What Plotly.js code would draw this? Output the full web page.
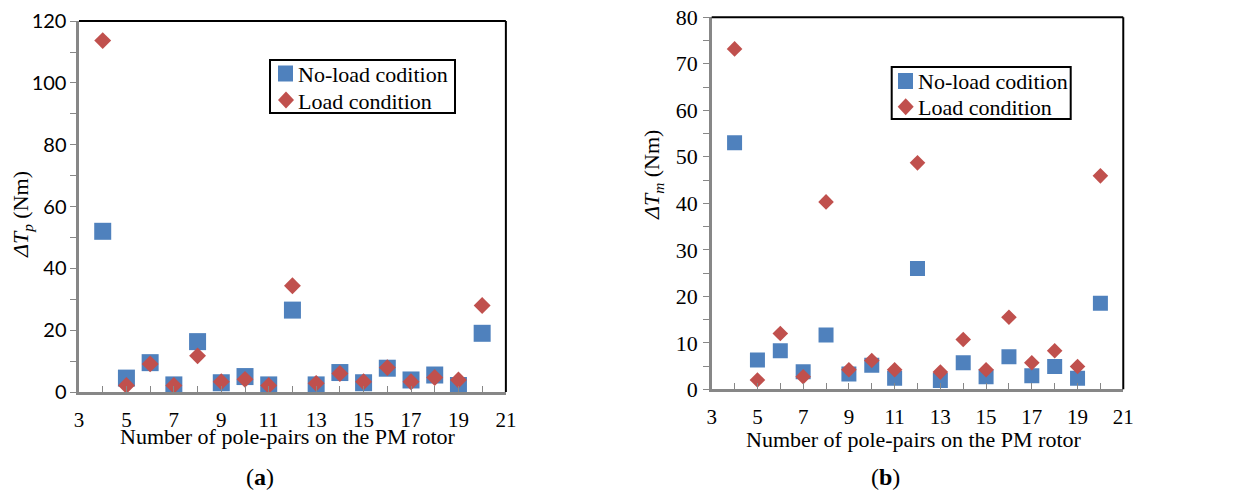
<!DOCTYPE html>
<html><head><meta charset="utf-8">
<script src="https://cdn.plot.ly/plotly-3.0.1.min.js"></script>
<style>body{margin:0;background:#fff}#c{width:1246px;height:491px}</style>
</head><body><div id="c"></div>
<script>
const polePairs = [4,5,6,7,8,9,10,11,12,13,14,15,16,17,18,19,20];
const tpNoLoad = [52,4.5,9.5,2.3,16.3,3.0,5.0,2.3,26.5,2.3,6.3,3.0,7.7,3.9,5.5,2.1,19];
const tpLoad   = [113.7,2.1,9.1,2.1,11.7,3.3,4.1,2.1,34.4,2.8,6.0,3.3,7.9,3.3,4.7,3.9,28];
const tmNoLoad = [53,6.3,8.3,3.8,11.7,3.3,5.2,2.4,26,1.9,5.7,2.7,7,2.9,4.9,2.4,18.5];
const tmLoad   = [73.2,2.0,12.0,2.7,40.3,4.2,6.2,4.2,48.7,3.7,10.7,4.2,15.5,5.7,8.3,4.9,45.9];
const seriesNames = ['No-load codition','Load condition'];

const W = 1246, H = 491;
const blue = '#4F81BD', red = '#C0504D';
const serif = 'Liberation Serif, Times New Roman, serif';
const sans = 'Lato, Carlito, sans-serif';

const traces = [
  {x: polePairs, y: tpNoLoad, name: seriesNames[0], type:'scatter', mode:'markers', xaxis:'x', yaxis:'y',
   marker:{symbol:'square', size:17, color:blue}},
  {x: polePairs, y: tpLoad, name: seriesNames[1], type:'scatter', mode:'markers', xaxis:'x', yaxis:'y',
   marker:{symbol:'diamond', size:13, color:red}},
  {x: polePairs, y: tmNoLoad, name: seriesNames[0], type:'scatter', mode:'markers', xaxis:'x2', yaxis:'y2',
   marker:{symbol:'square', size:15, color:blue}},
  {x: polePairs, y: tmLoad, name: seriesNames[1], type:'scatter', mode:'markers', xaxis:'x2', yaxis:'y2',
   marker:{symbol:'diamond', size:12, color:red}}
];

const gray = '#878787';
function xax(domain, anchor){
  return {domain: domain, anchor: anchor, range:[3,21], tick0:3, dtick:2, ticks:'inside', ticklen:6, tickcolor:gray,
    minor:{dtick:1, ticks:'inside', ticklen:6, tickcolor:gray},
    showline:true, linecolor:gray, linewidth:2.5, showgrid:false, zeroline:false,
    ticklabelstandoff:7, tickfont:{family:serif, size:21, color:'#000'}};
}
function yax(domain, anchor, max, dt, font, standoff){
  return {domain: domain, anchor: anchor, range:[0,max], dtick:dt, ticks:'outside', ticklen:6, tickcolor:gray,
    minor:{dtick:dt/2, ticks:'outside', ticklen:6, tickcolor:gray},
    showline:true, linecolor:gray, linewidth:2.5, showgrid:false, zeroline:false,
    ticklabelstandoff:standoff, tickfont:font};
}

// paper-coordinate helpers (pixels from top-left)
const px = v => v / W, py = v => 1 - v / H;

function legendShapes(box, sq, dia){
  return [
    {type:'rect', xref:'paper', yref:'paper', x0:px(box[0]), x1:px(box[1]), y0:py(box[2]), y1:py(box[3]),
     line:{color:'#000', width:2}, fillcolor:'#fff', layer:'above'},
    {type:'rect', xref:'paper', yref:'paper', x0:px(sq[0]-7.5), x1:px(sq[0]+7.5), y0:py(sq[1]-8), y1:py(sq[1]+8),
     line:{width:0}, fillcolor:blue, layer:'above'},
    {type:'path', xref:'paper', yref:'paper',
     path:`M ${px(dia[0]-8)} ${py(dia[1])} L ${px(dia[0])} ${py(dia[1]-8.5)} L ${px(dia[0]+8)} ${py(dia[1])} L ${px(dia[0])} ${py(dia[1]+8.5)} Z`,
     line:{width:0}, fillcolor:red, layer:'above'}
  ];
}
function legendTexts(tx, y1, y2){
  return [
    {text:seriesNames[0], xref:'paper', yref:'paper', x:px(tx), y:py(y1), xanchor:'left', yanchor:'middle', showarrow:false,
     font:{family:serif, size:22, color:'#000'}},
    {text:seriesNames[1], xref:'paper', yref:'paper', x:px(tx), y:py(y2), xanchor:'left', yanchor:'middle', showarrow:false,
     font:{family:serif, size:22, color:'#000'}}
  ];
}

const layout = {
  width:W, height:H, margin:{l:0,r:0,t:0,b:0}, paper_bgcolor:'#fff', plot_bgcolor:'#fff',
  showlegend:false,
  xaxis: xax([0.0634,0.406],'y'),
  yaxis: yax([0.2016,0.957],'x',120,20,{family:sans, size:20, color:'#000'},0),
  xaxis2: xax([0.5712,0.9015],'y2'),
  yaxis2: yax([0.2071,0.9648],'x2',80,10,{family:serif, size:22, color:'#000'},1),
  shapes:[
    {type:'line', xref:'x domain', yref:'y domain', x0:0, x1:1, y0:1, y1:1, line:{color:'#000', width:2}},
    {type:'line', xref:'x domain', yref:'y domain', x0:1, x1:1, y0:0, y1:1, line:{color:'#000', width:2}},
    {type:'line', xref:'x2 domain', yref:'y2 domain', x0:0, x1:1, y0:1, y1:1, line:{color:'#000', width:2}},
    {type:'line', xref:'x2 domain', yref:'y2 domain', x0:1, x1:1, y0:0, y1:1, line:{color:'#000', width:2}},
    ...legendShapes([270,455,60,113],[285.5,73.5],[286,100]),
    ...legendShapes([891.7,1070.7,67,119],[905.5,81],[905.7,106.7])
  ],
  annotations:[
    ...legendTexts(296,75,101.5),
    ...legendTexts(916,81.5,108),
    {text:'<i>ΔT</i><sub><i>p</i></sub> (Nm)', xref:'paper', yref:'paper', x:px(22), y:py(215), xanchor:'center', yanchor:'middle',
     textangle:-90, showarrow:false, font:{family:serif, size:22, color:'#000'}},
    {text:'<i>ΔT</i><sub><i>m</i></sub> (Nm)', xref:'paper', yref:'paper', x:px(653), y:py(175), xanchor:'center', yanchor:'middle',
     textangle:-90, showarrow:false, font:{family:serif, size:22, color:'#000'}},
    {text:'Number of pole-pairs on the PM rotor', xref:'paper', yref:'paper', x:px(287), y:py(436), xanchor:'center', yanchor:'middle',
     showarrow:false, font:{family:serif, size:22, color:'#000'}},
    {text:'Number of pole-pairs on the PM rotor', xref:'paper', yref:'paper', x:px(913), y:py(439), xanchor:'center', yanchor:'middle',
     showarrow:false, font:{family:serif, size:22, color:'#000'}},
    {text:'(<b>a</b>)', xref:'paper', yref:'paper', x:px(260), y:py(477), xanchor:'center', yanchor:'middle', showarrow:false,
     font:{family:serif, size:24, color:'#000'}},
    {text:'(<b>b</b>)', xref:'paper', yref:'paper', x:px(885), y:py(477), xanchor:'center', yanchor:'middle', showarrow:false,
     font:{family:serif, size:24, color:'#000'}}
  ]
};
Plotly.newPlot('c', traces, layout, {displayModeBar:false, staticPlot:true});
</script></body></html>
